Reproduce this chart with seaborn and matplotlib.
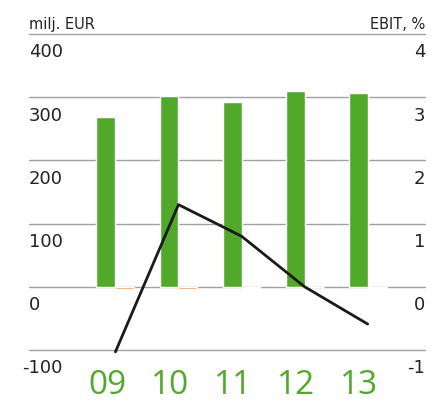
import numpy as np
import pandas as pd
import matplotlib
matplotlib.use("Agg")
import matplotlib.pyplot as plt
import seaborn as sns

# data
years = ["09", "10", "11", "12", "13"]
sales = [268, 302, 293, 310, 307]          # milj. EUR (green)
ebit_eur = [-3, -3, -2, -0.5, -2]          # milj. EUR (orange)
ebit_pct = [-1.03, 1.30, 0.80, 0.0, -0.59]  # EBIT, %
left_ticks = [400, 300, 200, 100, 0, -100]
right_ticks = [4, 3, 2, 1, 0, -1]

green = "#52a82b"
orange = "#f0883a"
text_col = "#222222"

df = pd.DataFrame({
    "year": years * 2,
    "value": sales + ebit_eur,
    "series": ["sales"] * len(years) + ["ebit"] * len(years),
})

sns.set_style("white")
plt.rcParams["font.family"] = ["DejaVu Sans"]

fig = plt.figure(figsize=(4.36, 4.06), dpi=100)
ax = fig.add_axes([0.0665, 0.1355, 0.9085, 0.7783])

for v in left_ticks:
    ax.axhline(v, color="#a0a0a0", lw=1.0, zorder=0, clip_on=False)

sns.barplot(data=df, x="year", y="value", hue="series", order=years,
            hue_order=["sales", "ebit"], palette=[green, orange],
            width=0.6, saturation=1, ax=ax, legend=False, zorder=2)
ax.set_xlim(-1.37, 4.91)
ax.set_ylim(-100, 400)
ax.set_xlabel("")
ax.set_ylabel("")
ax.set_yticks([])
ax.set_xticks(np.arange(len(years)) - 0.13)
ax.set_xticklabels(years, fontsize=24, color=green, family="Open Sans")
ax.tick_params(axis="x", length=0, pad=13)
for s in ax.spines.values():
    s.set_visible(False)

ax2 = ax.twinx()
sns.lineplot(x=np.arange(len(years)), y=ebit_pct, ax=ax2, color="#1a1a1a",
             lw=2.0, zorder=3, clip_on=False)
ax2.set_ylim(-1, 4)
ax2.set_yticks([])
for s in ax2.spines.values():
    s.set_visible(False)

# axis labels under gridlines
for v in left_ticks:
    ax.annotate(str(v), xy=(0, v), xycoords=("axes fraction", "data"),
                xytext=(-5 if v < 0 else 0, -6), textcoords="offset points",
                ha="left", va="top", fontsize=13, color=text_col)
for v in right_ticks:
    ax2.annotate(str(v), xy=(1, v), xycoords=("axes fraction", "data"),
                 xytext=(0, -6), textcoords="offset points",
                 ha="right", va="top", fontsize=13, color=text_col)

ax.annotate("milj. EUR", xy=(0, 1), xycoords="axes fraction",
            xytext=(0, 2), textcoords="offset points",
            ha="left", va="bottom", fontsize=10.5, color=text_col)
ax.annotate("EBIT, %", xy=(1, 1), xycoords="axes fraction",
            xytext=(0, 2), textcoords="offset points",
            ha="right", va="bottom", fontsize=10.5, color=text_col)

fig.savefig("out.png", dpi=100)
